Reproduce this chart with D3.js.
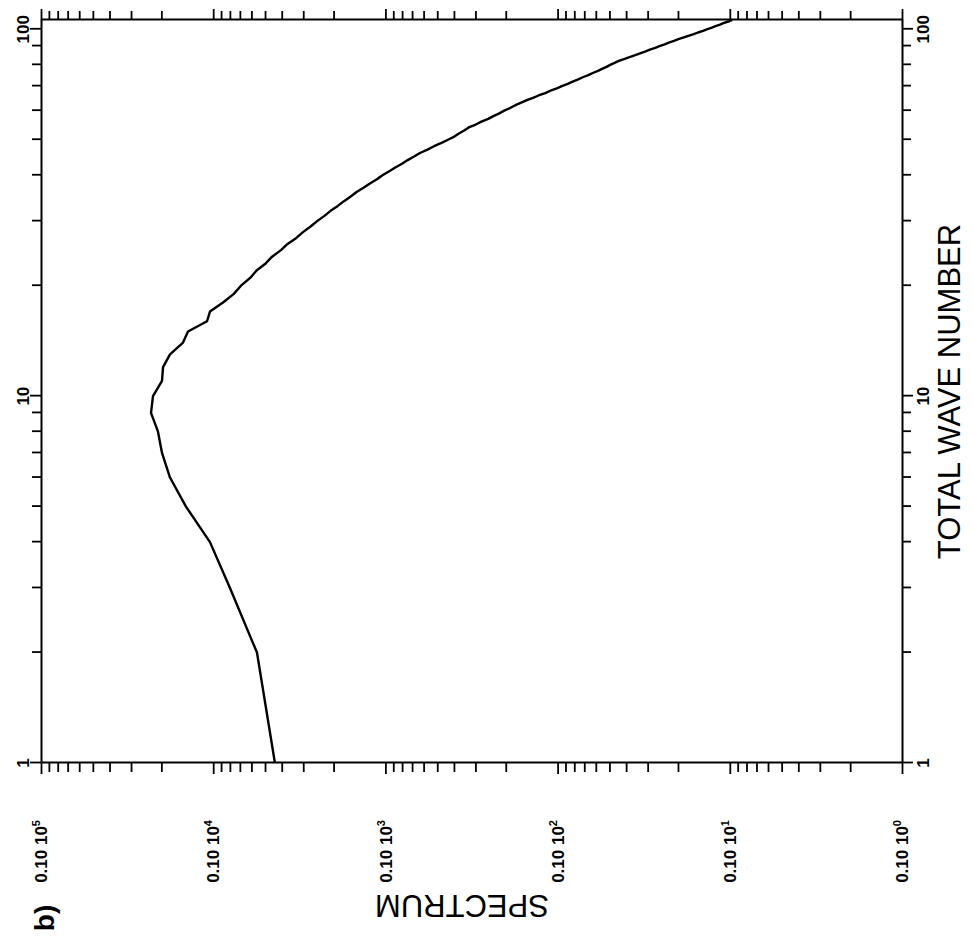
<!DOCTYPE html>
<html>
<head>
<meta charset="utf-8">
<script src="https://cdn.jsdelivr.net/npm/d3@7"></script>
<style>
  html, body { margin: 0; padding: 0; background: #fff; }
  svg { display: block; }
  text { font-family: "Liberation Sans", Arial, Helvetica, sans-serif; fill: #000; }
  .domain { stroke: #000; stroke-width: 2; }
  .tick line { stroke: #000; stroke-width: 1.8; }
</style>
</head>
<body>
<svg id="chart" width="974" height="948"></svg>
<script>
// Energy spectrum by total wave number n = 1 .. 106
const spectrum = [
  438, 557, 799, 1044, 1439, 1782, 1983, 2092, 2297, 2237,
  1983, 1956, 1782, 1497, 1401, 1086, 1044, 877, 759, 690,
  610, 560, 496, 455, 404, 370, 329, 301, 272, 249,
  226, 208, 189, 174, 159, 147, 134, 123, 112, 104,
  95.0, 87.6, 80.1, 74.2, 68.1, 63.0, 57.0, 52.2, 47.2, 43.3,
  39.8, 37.4, 34.9, 32.8, 29.9, 27.7, 25.3, 23.6, 21.8, 20.4,
  18.9, 17.7, 16.4, 15.2, 13.9, 12.9, 11.8, 11.0, 10.1, 9.45,
  8.73, 8.18, 7.59, 7.14, 6.64, 6.25, 5.83, 5.52, 5.20, 4.95,
  4.67, 4.41, 4.08, 3.82, 3.54, 3.32, 3.08, 2.91, 2.71, 2.56,
  2.39, 2.26, 2.11, 1.99, 1.85, 1.74, 1.62, 1.53, 1.43, 1.36,
  1.27, 1.21, 1.14, 1.09, 1.02, 0.968
];
const waveNumbers = d3.range(1, spectrum.length + 1);

// Axis extents and labelled ticks
const waveDomain = [1, 106];
const spectrumDomain = [0.1, 1e4];
const waveLabelTicks = [1, 10, 100];
const spectrumDecades = [1e4, 1e3, 1e2, 1e1, 1, 0.1];
const spectrumExponents = ["5", "4", "3", "2", "1", "0"];

const xTitle = "TOTAL WAVE NUMBER";
const yTitle = "SPECTRUM";
const panelTag = "b)";

const points = waveNumbers.map((n, i) => ({ n: n, s: spectrum[i] }));

const svg = d3.select("#chart");
// The panel is laid out in its own upright frame and then turned a quarter turn.
const g = svg.append("g").attr("transform", "translate(0,948) rotate(-90)");

const x = d3.scaleLog().domain(waveDomain).range([185, 928]);
const y = d3.scaleLog().domain(spectrumDomain).range([902, 41]);

const xTicks = x.ticks();
const yTicks = y.ticks();
const isDecade = v => Math.abs(Math.log10(v) - Math.round(Math.log10(v))) < 1e-9;

function styleAxis(sel) {
  sel.selectAll(".tick text").remove();
  sel.selectAll(".tick line").filter(d => isDecade(d)).each(function () {
    const ln = d3.select(this);
    ["x2", "y2"].forEach(a => {
      const v = +ln.attr(a);
      if (v) ln.attr(a, v > 0 ? 11 : -11);
    });
  });
}

g.append("g").attr("transform", "translate(0,902)")
  .call(d3.axisBottom(x).tickValues(xTicks).tickSize(9).tickSizeOuter(0))
  .call(styleAxis);
g.append("g").attr("transform", "translate(0,41)")
  .call(d3.axisTop(x).tickValues(xTicks).tickSize(9).tickSizeOuter(0))
  .call(styleAxis);
g.append("g").attr("transform", "translate(185,0)")
  .call(d3.axisLeft(y).tickValues(yTicks).tickSize(9).tickSizeOuter(0))
  .call(styleAxis);
g.append("g").attr("transform", "translate(928,0)")
  .call(d3.axisRight(y).tickValues(yTicks).tickSize(9).tickSizeOuter(0))
  .call(styleAxis);

// Wave number labels on both long sides
const waveLabelStyle = s => s
  .attr("text-anchor", "middle")
  .attr("font-size", 17)
  .attr("font-weight", "bold")
  .text(d => d);
g.append("g").selectAll("text").data(waveLabelTicks).join("text")
  .attr("x", d => x(d)).attr("y", 902 + 27).call(waveLabelStyle);
g.append("g").selectAll("text").data(waveLabelTicks).join("text")
  .attr("x", d => x(d)).attr("y", 41 - 12).call(waveLabelStyle);

// Spectrum decade labels, written as 0.10 x 10^k
const specLabels = g.append("g").selectAll("text")
  .data(spectrumDecades.map((v, i) => ({ v: v, e: spectrumExponents[i] })))
  .join("text")
  .attr("x", 185 - 57)
  .attr("y", d => y(d.v))
  .attr("dy", "0.36em")
  .attr("text-anchor", "end")
  .attr("font-size", 17)
  .attr("font-weight", "bold");
specLabels.append("tspan").text("0.10 10");
specLabels.append("tspan")
  .attr("font-size", 11)
  .attr("dy", -7)
  .text(d => d.e);

// Titles
g.append("text")
  .attr("x", (x.range()[0] + x.range()[1]) / 2)
  .attr("y", 960)
  .attr("text-anchor", "middle")
  .attr("font-size", 31)
  .text(xTitle);

g.append("text")
  .attr("transform", "translate(53,462) rotate(-90)")
  .attr("text-anchor", "middle")
  .attr("font-size", 31)
  .text(yTitle);

g.append("text")
  .attr("x", 30).attr("y", 54)
  .attr("text-anchor", "middle")
  .attr("font-size", 28)
  .attr("font-weight", "bold")
  .text(panelTag);

// Spectrum curve
const line = d3.line().x(d => x(d.n)).y(d => y(d.s));
g.append("path")
  .datum(points)
  .attr("d", line)
  .attr("fill", "none")
  .attr("stroke", "#000")
  .attr("stroke-width", 2.4)
  .attr("stroke-linejoin", "round");
</script>
</body>
</html>
